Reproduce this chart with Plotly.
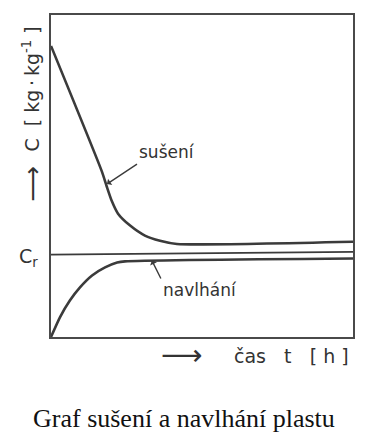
import plotly.graph_objects as go

# time axis (arbitrary units, 0..10) and moisture content C (arbitrary units, 0..10)
t_suseni = [0.0, 1.68, 1.84, 2.01, 2.22, 2.62, 3.11, 3.61, 4.17, 10.0]
c_suseni = [9.04, 5.15, 4.69, 4.23, 3.83, 3.46, 3.15, 2.99, 2.89, 2.96]

t_navlhani = [0.0, 0.30, 0.63, 0.96, 1.36, 1.79, 2.19, 2.45, 10.0]
c_navlhani = [0.0, 0.62, 1.14, 1.54, 1.91, 2.16, 2.31, 2.35, 2.44]

t_cr = [0.0, 10.0]
c_cr = [2.56, 2.645]

label_suseni = "sušení"
label_navlhani = "navlhání"
y_title = "C\u00a0\u00a0[\u00a0kg\u2009·\u2009kg<sup>-1</sup>\u00a0]"
x_title = "čas\u00a0\u00a0\u00a0t\u00a0\u00a0\u00a0[\u00a0h\u00a0]"
axis_arrow = "\u27f6"
cr_label = "C<sub>r</sub>"
caption = "Graf sušení a navlhání plastu"

LINE = "#3b3b3b"
TEXT = "#333333"
SANS = "DejaVu Sans"

fig = go.Figure()
fig.add_trace(go.Scatter(x=t_suseni, y=c_suseni, mode="lines",
                         line=dict(color=LINE, width=2.6, shape="spline", smoothing=0.6),
                         hoverinfo="skip", showlegend=False))
fig.add_trace(go.Scatter(x=t_navlhani, y=c_navlhani, mode="lines",
                         line=dict(color=LINE, width=2.6, shape="spline", smoothing=0.6),
                         hoverinfo="skip", showlegend=False))
fig.add_trace(go.Scatter(x=t_cr, y=c_cr, mode="lines",
                         line=dict(color=LINE, width=1.8),
                         hoverinfo="skip", showlegend=False))

P = dict(xref="paper", yref="paper")
ann = []
# curve labels with pointer lines (arrow head on the curve)
ann.append(dict(text=label_suseni, x=0.1854, y=0.475, **P, xanchor="left", yanchor="bottom",
                showarrow=True, ax=30, ay=-20, arrowhead=1, arrowsize=0.9,
                arrowwidth=1.4, arrowcolor=LINE,
                font=dict(family=SANS, size=17, color=TEXT)))
ann.append(dict(text=label_navlhani, x=0.334, y=0.2377, **P, xanchor="left", yanchor="top",
                showarrow=True, ax=9, ay=18, arrowhead=1, arrowsize=0.9,
                arrowwidth=1.4, arrowcolor=LINE,
                font=dict(family=SANS, size=17, color=TEXT)))
# axis titles
ann.append(dict(text=y_title, x=-0.0662, y=0.7685, **P, xanchor="center", yanchor="middle",
                textangle=-90, showarrow=False, font=dict(family=SANS, size=19, color=TEXT)))
ann.append(dict(text=axis_arrow, x=-0.063, y=0.475, **P, xanchor="center", yanchor="middle",
                textangle=-90, showarrow=False, font=dict(family=SANS, size=25, color=TEXT)))
ann.append(dict(text=x_title, x=0.599, y=-0.0586, **P, xanchor="left", yanchor="middle",
                showarrow=False, font=dict(family=SANS, size=19, color=TEXT)))
ann.append(dict(text=axis_arrow, x=0.434, y=-0.0556, **P, xanchor="center", yanchor="middle",
                showarrow=False, font=dict(family=SANS, size=29, color=TEXT)))
ann.append(dict(text=cr_label, x=-0.112, y=0.247, **P, xanchor="left", yanchor="middle",
                showarrow=False, font=dict(family=SANS, size=19, color=TEXT)))
# caption
ann.append(dict(text=caption, x=0.44, y=-0.2546, **P, xanchor="center", yanchor="middle",
                showarrow=False, font=dict(family="Liberation Serif", size=26, color="#111111")))

# the page body has an 8px margin, so the figure is sized/shifted to compensate
fig.update_layout(
    width=355, height=427,
    margin=dict(l=43, r=10, t=5, b=98),
    paper_bgcolor="white", plot_bgcolor="white",
    annotations=ann,
    xaxis=dict(range=[0, 10], showgrid=False, zeroline=False, showticklabels=False,
               ticks="", showline=True, mirror=True, linecolor="#4a4a4a", linewidth=1.6),
    yaxis=dict(range=[0, 10], showgrid=False, zeroline=False, showticklabels=False,
               ticks="", showline=True, mirror=True, linecolor="#4a4a4a", linewidth=1.6),
)

fig.write_html("out.html")
